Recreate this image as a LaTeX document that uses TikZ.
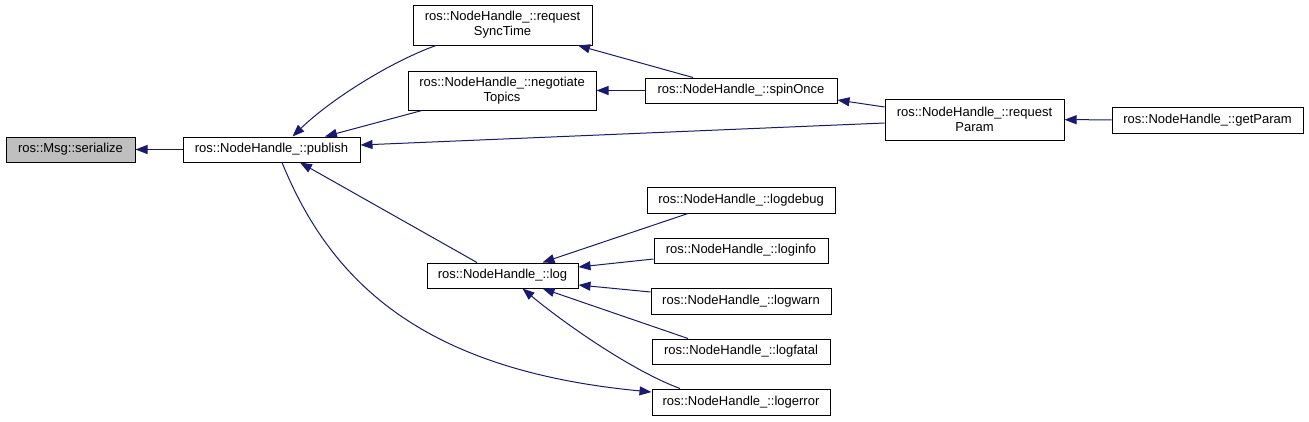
\documentclass[tikz,border=0pt]{standalone}
\usepackage{fontspec}
\setmainfont{Liberation Sans}
\usepackage{xcolor}
\usetikzlibrary{arrows.meta,positioning}
\definecolor{edgeblue}{HTML}{191970}
\definecolor{nodegray}{HTML}{BFBFBF}

\begin{document}
\begin{tikzpicture}[x=1pt, y=-1pt, every node/.style={font=\fontsize{13}{15}\selectfont},
    fn/.style={draw, line width=1pt, inner sep=0pt, minimum height=25pt, align=center},
    call/.style={-{Triangle[length=12pt,width=9pt]}, edgeblue, line width=1pt}]
        \useasboundingbox (0,0) rectangle (1309,421);
        \node[fn, fill=nodegray, minimum width=129pt] (serialize) at (70.5,149.5) {ros::Msg::serialize};
        \node[fn, minimum width=177pt] (publish) at (271.5,149.5) {ros::NodeHandle\_::publish};
        \node[fn, minimum width=179pt, minimum height=40pt] (syncTime) at (502.5,25) {ros::NodeHandle\_::request\\SyncTime};
        \node[fn, minimum width=188pt, minimum height=39pt] (negotiate) at (502,90.5) {ros::NodeHandle\_::negotiate\\Topics};
        \node[fn, minimum width=192pt] (spinOnce) at (741,90.5) {ros::NodeHandle\_::spinOnce};
        \node[fn, minimum width=179pt, minimum height=41pt] (reqParam) at (974.5,119.5) {ros::NodeHandle\_::request\\Param};
        \node[fn, minimum width=191pt, minimum height=26pt] (getParam) at (1207.5,120) {ros::NodeHandle\_::getParam};
        \node[fn, minimum width=151pt] (log) at (502.5,275.5) {ros::NodeHandle\_::log};
        \node[fn, minimum width=188pt, minimum height=26pt] (logdebug) at (741,200) {ros::NodeHandle\_::logdebug};
        \node[fn, minimum width=174pt] (loginfo) at (741,250.5) {ros::NodeHandle\_::loginfo};
        \node[fn, minimum width=180pt, minimum height=26pt] (logwarn) at (741,301) {ros::NodeHandle\_::logwarn};
        \node[fn, minimum width=178pt] (logfatal) at (741,351.5) {ros::NodeHandle\_::logfatal};
        \node[fn, minimum width=178pt, minimum height=26pt] (logerror) at (741,402) {ros::NodeHandle\_::logerror};
        \draw[call] (publish) -- (serialize);
        \draw[call] ([xshift=-66.5pt]syncTime.south) .. controls (390,62) and (330,100) .. ([xshift=21pt]publish.north);
        \draw[call] ([xshift=-80pt]negotiate.south) -- ([xshift=53.5pt]publish.north);
        \draw[call] ([yshift=-3.5pt]reqParam.west) -- ([yshift=4.5pt]publish.east);
        \draw[call] ([xshift=-25.5pt]log.north) -- ([xshift=28.5pt]publish.south);
        \draw[call] ([xshift=10.5pt]publish.south) .. controls (330,280) and (420,370) .. ([yshift=10pt]logerror.west);
        \draw[call] (spinOnce) -- (negotiate);
        \draw[call] ([xshift=-48pt]spinOnce.north) -- ([xshift=75.5pt]syncTime.south);
        \draw[call] ([yshift=12.5pt]reqParam.west) -- ([yshift=-9.5pt]spinOnce.east);
        \draw[call] (getParam) -- (reqParam);
        \draw[call] ([xshift=-53pt]logdebug.south) -- ([xshift=40pt]log.north);
        \draw[call] ([yshift=-8.5pt]loginfo.west) -- ([yshift=8.5pt]log.east);
        \draw[call] ([yshift=9pt]logwarn.west) -- ([yshift=-9.5pt]log.east);
        \draw[call] ([xshift=-53pt]logfatal.north) -- ([xshift=40pt]log.south);
        \draw[call] ([xshift=-61pt]logerror.north) .. controls (630,370) and (560,320) .. ([xshift=20pt]log.south);
    \end{tikzpicture}
\end{document}
